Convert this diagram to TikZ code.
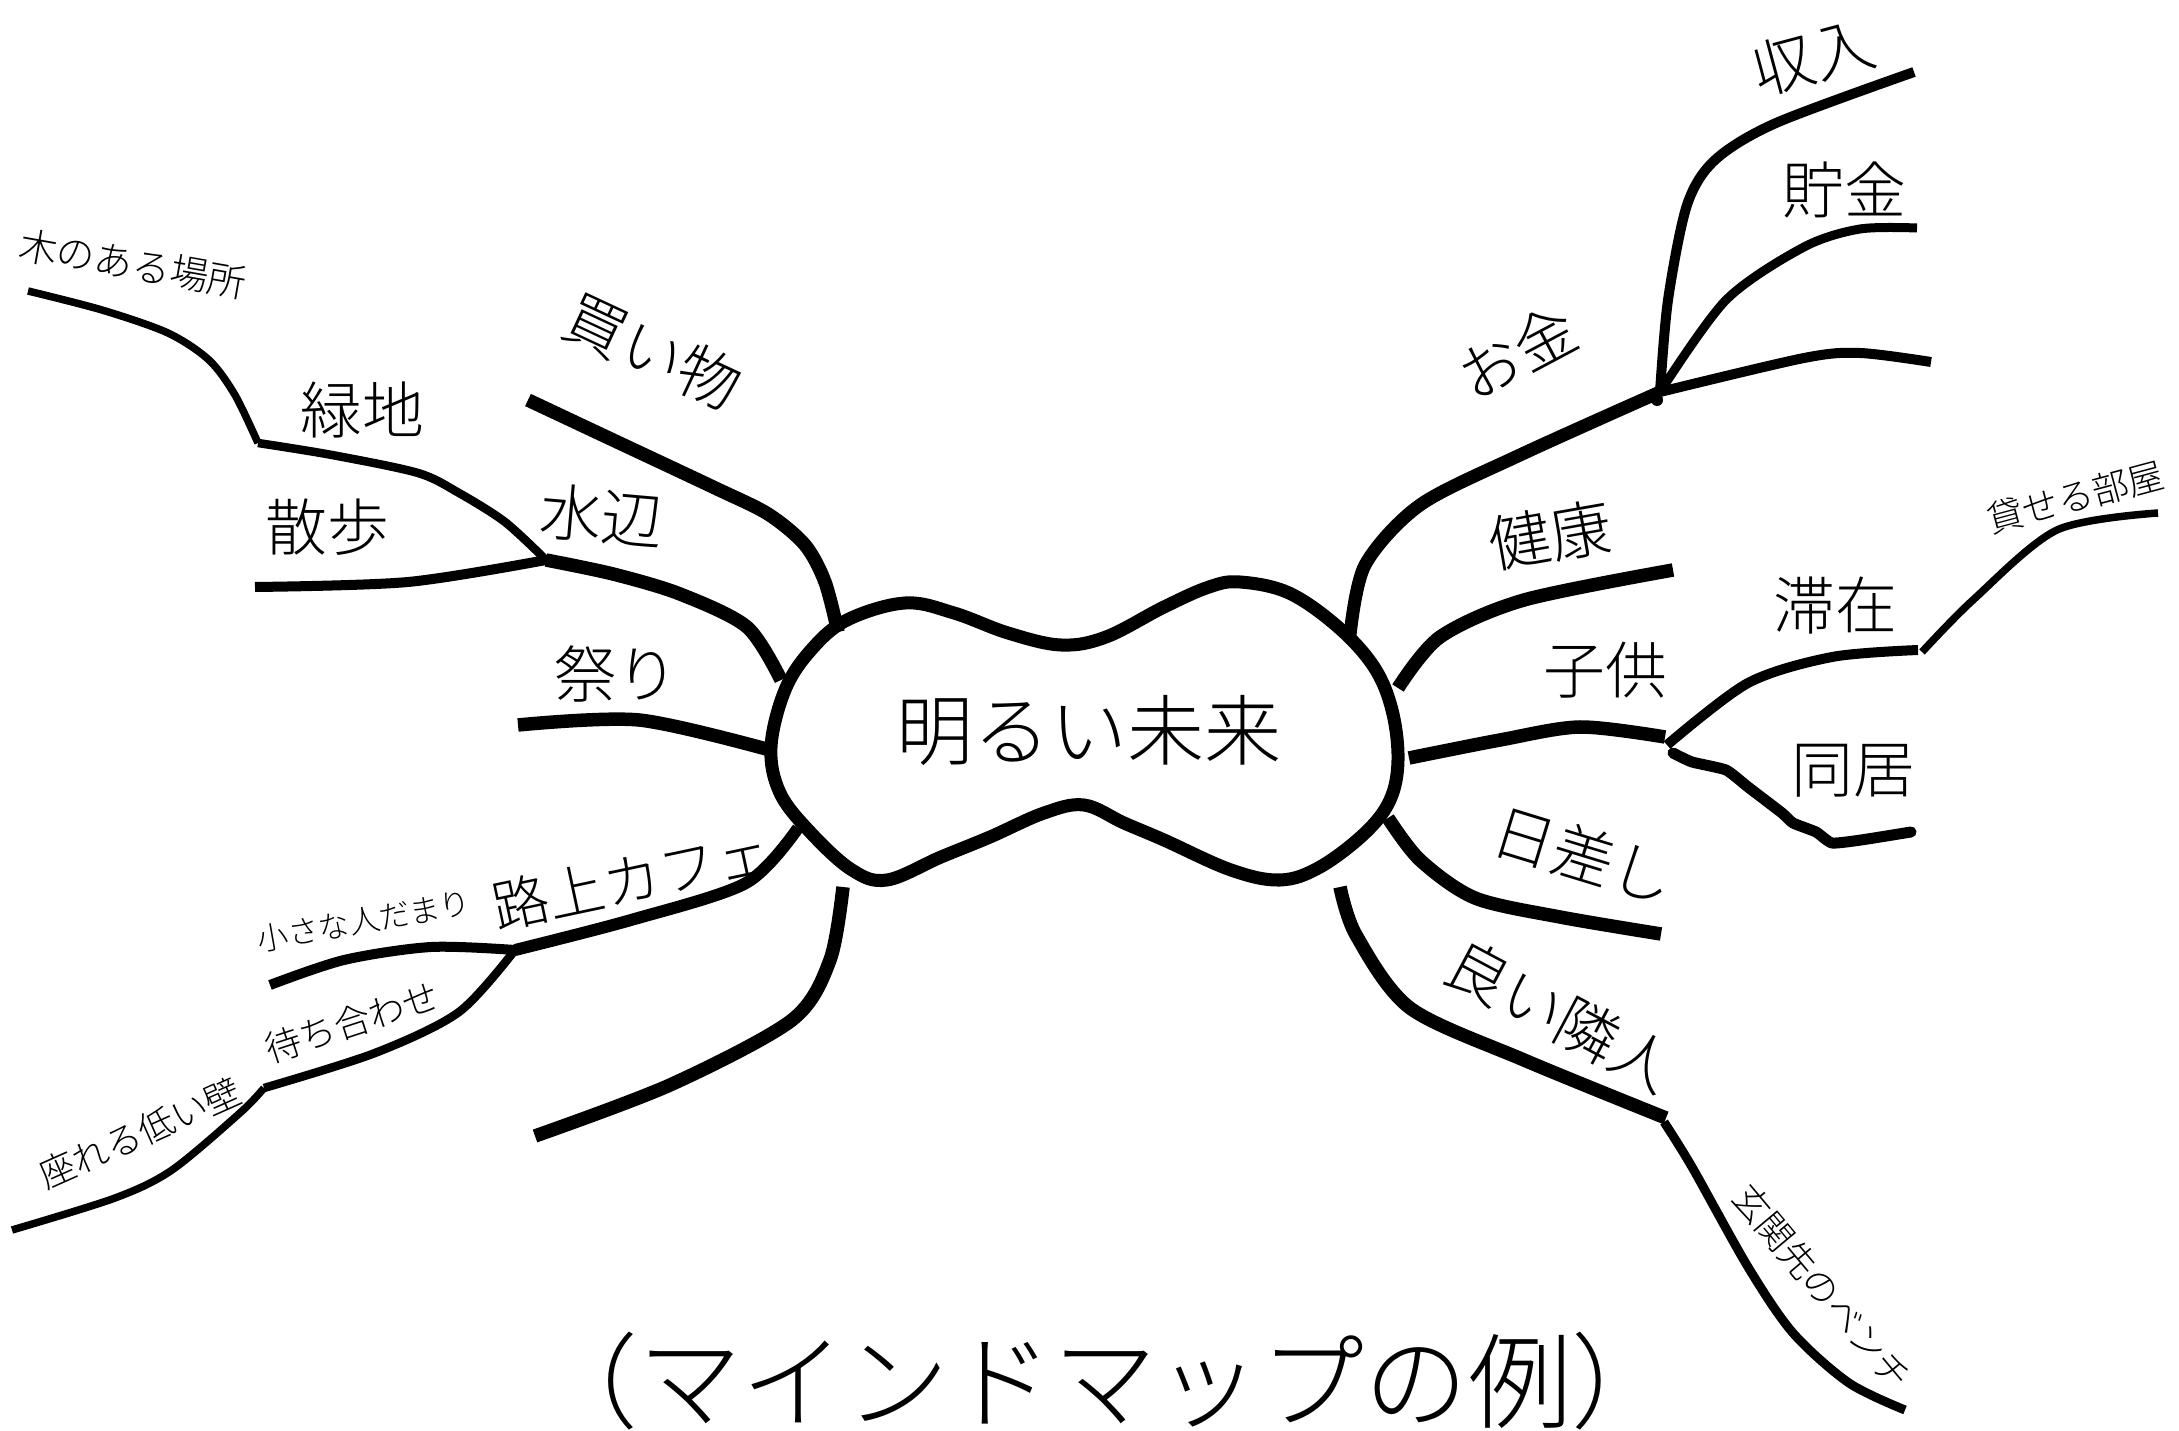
\documentclass[tikz,border=0pt]{standalone}
\usepackage{fontspec}
\setmainfont{Noto Sans CJK JP Light}
\begin{document}
\begin{tikzpicture}[x=0.01cm,y=-0.01cm,
  heavy/.style={line width=0.135cm},
  medium/.style={line width=0.1cm},
  light/.style={line width=0.075cm},
  blobline/.style={line width=0.13cm},
  lbl/.style={font=\fontsize{17.6}{20}\selectfont, inner sep=0pt},
  sml/.style={font=\fontsize{10.3}{12}\selectfont, inner sep=0pt},
  tiny/.style={font=\fontsize{8.8}{10}\selectfont, inner sep=0pt},
  ctr/.style={font=\fontsize{21.9}{24}\selectfont, inner sep=0pt},
  ttl/.style={font=\fontsize{29.5}{32}\selectfont, inner sep=0pt}]
\useasboundingbox[fill=white] (0,0) rectangle (2179,1431);

% central blob
\draw[blobline] plot[smooth cycle, tension=0.6] coordinates {
 (771,747) (785,690) (811,650) (847,620) (905,603) (954,613) (1008,633)
 (1061,645) (1106,637) (1164,607) (1209,587) (1240,582) (1289,593) (1338,627)
 (1374,667) (1392,710) (1398,760) (1390,800) (1365,833) (1320,867) (1280,880)
 (1231,870) (1164,840) (1124,823) (1084,805) (1044,813) (990,837) (941,857)
 (887,880) (852,870) (811,833) (780,793)};
\node[ctr] (center) at (1089,731) {明るい未来};

% ---------- left side ----------
\coordinate (kai0) at (528,400);  \coordinate (kai1) at (838,632);
\coordinate (mizu0) at (546,560); \coordinate (mizu1) at (781,680);
\coordinate (sanpo0) at (255,587);
\coordinate (ryoku0) at (258,443);
\coordinate (ki0) at (28,291);
\coordinate (matsu0) at (518,725); \coordinate (matsu1) at (770,750);
\coordinate (cafe0) at (515,950); \coordinate (cafe1) at (798,828);
\coordinate (chii0) at (270,985);
\coordinate (machi0) at (264,1088);
\coordinate (kabe0) at (12,1230);
\coordinate (bl0) at (843,887); \coordinate (bl1) at (535,1136);

\draw[heavy] plot[smooth] coordinates {(kai0) (613,440) (713,487) (768,514) (805,545) (825,582) (kai1)};
\draw[heavy] plot[smooth] coordinates {(mizu0) (613,574) (680,594) (747,627) (mizu1)};
\draw[medium] plot[smooth] coordinates {(sanpo0) (408,582) (mizu0)};
\draw[light,line width=0.085cm] plot[smooth] coordinates {(ryoku0) (332,455) (418,473) (459,493) (505,522) (mizu0)};
\draw[light] plot[smooth] coordinates {(ki0) (102,310) (168,333) (209,360) (235,395) (ryoku0)};
\draw[heavy] plot[smooth] coordinates {(matsu0) (639,720) (matsu1)};
\draw[heavy,line width=0.12cm] plot[smooth] coordinates {(cafe0) (631,920) (746,883) (cafe1)};
\draw[medium] plot[smooth] coordinates {(chii0) (344,960) (431,947) (cafe0)};
\draw[light,line width=0.085cm] plot[smooth] coordinates {(cafe0) (459,1012) (375,1053) (machi0)};
\draw[light] plot[smooth] coordinates {(machi0) (241,1112) (172,1170) (115,1198) (kabe0)};
\draw[heavy] plot[smooth] coordinates {(bl0) (830,960) (792,1020) (670,1085) (bl1)};

\node[sml,font=\fontsize{10.9}{12}\selectfont,rotate=-10] (ki) at (133,264) {木のある場所};
\node[lbl] (ryoku) at (362,410) {緑地};
\node[lbl] (sanpo) at (327,527) {散歩};
\node[lbl,rotate=-5] (mizu) at (602,516) {水辺};
\node[lbl,rotate=-25] (kai) at (653,351) {買い物};
\node[lbl] (matsu) at (616,674) {祭り};
\node[lbl,font=\fontsize{16.2}{18}\selectfont,rotate=12] (cafe) at (632,879) {路上カフェ};
\node[tiny,rotate=10] (chii) at (364,921) {小さな人だまり};
\node[sml,rotate=18] (machi) at (352,1022) {待ち合わせ};
\node[sml,rotate=24] (kabe) at (140,1133) {座れる低い壁};

% ---------- right side ----------
\coordinate (kane0) at (1350,635); \coordinate (kj) at (1660,392);
\coordinate (shu1) at (1914,72);
\coordinate (cho1) at (1917,228);
\coordinate (san1) at (1931,362);
\coordinate (ken0) at (1398,688); \coordinate (ken1) at (1673,570);
\coordinate (ko0) at (1409,758); \coordinate (ko1) at (1665,737);
\coordinate (tai1) at (1918,650);
\coordinate (heya1) at (2158,513);
\coordinate (dou0) at (1673,753); \coordinate (dou1) at (1911,832);
\coordinate (hi0) at (1388,818); \coordinate (hi1) at (1661,934);
\coordinate (yoi0) at (1340,887); \coordinate (yoi1) at (1666,1118);
\coordinate (gen1) at (1905,1410);

\draw[heavy,line width=0.13cm] plot[smooth] coordinates {(kane0) (1365,565) (1420,505) (1520,455) (kj)};
\draw[medium] plot[smooth] coordinates {(kj) (1668,300) (1687,205) (1715,160) (1776,123) (shu1)};
\draw[light,line width=0.09cm] plot[smooth] coordinates {(kj) (1726,300) (1804,247) (1860,229) (cho1)};
\draw[medium] plot[smooth] coordinates {(kj) (1804,358) (1860,353) (san1)};
\fill (1657,400) circle (6);
\draw[heavy] plot[smooth] coordinates {(ken0) (1440,637) (1524,600) (ken1)};
\draw[heavy] plot[smooth] coordinates {(ko0) (1500,740) (1580,727) (ko1)};
\draw[medium] plot[smooth] coordinates {(1667,745) (1748,683) (1832,657) (tai1)};
\draw[light] plot[smooth] coordinates {(1922,652) (1973,600) (2057,530) (heya1)};
\draw[medium,line width=0.11cm,line cap=round,line join=round] plot[smooth,tension=0.3] coordinates {(dou0) (1692,762) (1726,770) (1748,787) (1782,813) (1793,823) (1816,832) (1832,843) (1861,840) (dou1)};
\draw[heavy] plot[smooth] coordinates {(hi0) (1420,860) (1475,898) (1560,917) (hi1)};
\draw[heavy] plot[smooth] coordinates {(yoi0) (1356,935) (1410,1008) (1524,1060) (yoi1)};
\draw[light,line width=0.09cm] plot[smooth] coordinates {(1664,1122) (1692,1167) (1748,1267) (1793,1333) (1849,1383) (gen1)};

\node[lbl,rotate=15] (shu) at (1813,57) {収入};
\node[lbl] (cho) at (1844,190) {貯金};
\node[lbl,rotate=28] (kane) at (1517,352) {お金};
\node[lbl,rotate=10] (ken) at (1550,535) {健康};
\node[lbl] (ko) at (1605,670) {子供};
\node[lbl] (tai) at (1835,606) {滞在};
\node[sml,rotate=15] (heya) at (2075,497) {貸せる部屋};
\node[lbl] (dou) at (1853,771) {同居};
\node[lbl,rotate=-17] (hi) at (1584,855) {日差し};
\node[lbl,rotate=-28] (yoi) at (1561,1016) {良い隣人};
\node[sml,rotate=-50] (gen) at (1822,1287) {玄関先のベンチ};

% title
\node[ttl] (title) at (1105,1381) {（マインドマップの例）};
\end{tikzpicture}
\end{document}
